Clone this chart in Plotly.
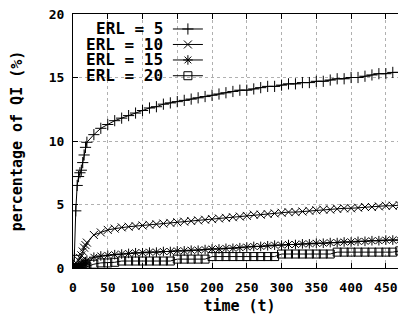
import plotly.graph_objects as go

t = list(range(0, 21, 2)) + list(range(30, 480, 10))

erl5 = [0, 1.0, 4.5, 6.5, 7.2, 7.5, 7.7, 8.3, 8.9, 9.5, 9.9,
        10.5, 11.0, 11.3, 11.6, 11.8, 12.0, 12.2,
        12.4, 12.6, 12.7, 12.9, 13.0, 13.1, 13.2, 13.3, 13.4, 13.5,
        13.6, 13.7, 13.8, 13.9, 14.0, 14.0, 14.1, 14.2, 14.3, 14.3,
        14.4, 14.5, 14.5, 14.6, 14.6, 14.7, 14.7, 14.8, 14.9, 14.9,
        15.0, 15.0, 15.1, 15.2, 15.3, 15.3, 15.4, 15.4]
erl10 = [0, 0, 0.1, 0.3, 0.6, 0.8, 1.0, 1.3, 1.6, 1.8, 2.0,
         2.6, 2.8, 3.0, 3.1, 3.2, 3.25, 3.3,
         3.35, 3.4, 3.45, 3.5, 3.55, 3.6, 3.65, 3.7, 3.75, 3.8,
         3.85, 3.9, 3.95, 4.0, 4.05, 4.1, 4.2, 4.2, 4.25, 4.3,
         4.35, 4.4, 4.4, 4.45, 4.5, 4.55, 4.6, 4.6, 4.65, 4.7,
         4.7, 4.75, 4.8, 4.8, 4.85, 4.9, 4.9, 4.95]
erl15 = [0, 0, 0, 0, 0.05, 0.1, 0.2, 0.3, 0.4, 0.5, 0.6,
         0.85, 0.95, 1.0, 1.05, 1.1, 1.15, 1.2,
         1.2, 1.25, 1.25, 1.3, 1.3, 1.35, 1.35, 1.4, 1.4, 1.45,
         1.5, 1.5, 1.55, 1.55, 1.6, 1.65, 1.7, 1.7, 1.75, 1.8,
         1.8, 1.85, 1.85, 1.9, 1.9, 1.95, 1.95, 2.0, 2.0, 2.05,
         2.05, 2.1, 2.1, 2.15, 2.15, 2.2, 2.2, 2.2]
erl20 = [0, 0, 0, 0, 0, 0, 0, 0, 0, 0.05, 0.1,
         0.3, 0.4, 0.4, 0.45, 0.55, 0.55, 0.55,
         0.55, 0.55, 0.55, 0.55, 0.55, 0.7, 0.7, 0.7, 0.7, 0.7,
         0.9, 0.9, 0.9, 0.9, 0.9, 0.9, 0.9, 0.9, 0.9, 0.9,
         1.1, 1.1, 1.1, 1.1, 1.1, 1.1, 1.1, 1.1, 1.25, 1.25,
         1.25, 1.25, 1.25, 1.25, 1.25, 1.25, 1.25, 1.35]

labels = ["ERL = 5", "ERL = 10", "ERL = 15", "ERL = 20"]
series = [erl5, erl10, erl15, erl20]
symbols = ["cross-thin-open", "x-thin-open", "asterisk-open", "square-open"]

x_ticks = list(range(0, 451, 50))
y_ticks = [0, 5, 10, 15, 20]

FONT = "DejaVu Sans Mono"
key_rows = [0.941, 0.880, 0.819, 0.757]
legend_ids = ["legend", "legend2", "legend3", "legend4"]

fig = go.Figure()
for lab, ys, sym, lid in zip(labels, series, symbols, legend_ids):
    fig.add_trace(go.Scatter(
        x=t, y=ys, mode="lines+markers", name="", legend=lid,
        line=dict(color="black", width=1),
        marker=dict(symbol=sym, size=8, color="black",
                    line=dict(color="black", width=1)),
    ))

# key background
fig.add_shape(type="rect", xref="paper", yref="paper", x0=0, x1=0.41,
              y0=0.72, y1=1.0, fillcolor="white", line=dict(width=0),
              layer="between")

for lab, yy in zip(labels, key_rows):
    fig.add_annotation(text="<b>%s</b>" % lab, xref="paper", yref="paper",
                       x=0.276, y=yy, xanchor="right", yanchor="middle",
                       showarrow=False,
                       font=dict(family=FONT, size=16, color="black"))

axis_common = dict(
    showline=True, linecolor="black", linewidth=1, mirror="ticks",
    ticks="inside", ticklen=5, tickcolor="black",
    showgrid=True, gridcolor="#b0b0b0", griddash="dot", gridwidth=1,
    zeroline=False, automargin=False, ticklabeloverflow="allow",
    tickfont=dict(family=FONT, size=13, color="black", weight="bold"),
)

fig.update_xaxes(range=[0, 479], tickvals=x_ticks, ticklabelstandoff=7,
                 title=dict(text="<b>time (t)</b>", standoff=6,
                            font=dict(family=FONT, size=15, color="black")),
                 **axis_common)
fig.update_yaxes(range=[0, 20], tickvals=y_ticks, ticklabelstandoff=5,
                 title=dict(text="<b>percentage of QI (%)</b>", standoff=22,
                            font=dict(family=FONT, size=15, color="black")),
                 **axis_common)

leg_common = dict(x=0.285, xanchor="left", yanchor="middle",
                  bgcolor="rgba(0,0,0,0)", borderwidth=0,
                  font=dict(family=FONT, size=10), itemwidth=30)

# page body has an 8px margin, so the figure is 398x312 to fill 406x320
fig.update_layout(
    width=398, height=312,
    margin=dict(l=65, r=0, t=6, b=52),
    paper_bgcolor="white", plot_bgcolor="white",
    showlegend=True,
    legend=dict(y=key_rows[0], **leg_common),
    legend2=dict(y=key_rows[1], **leg_common),
    legend3=dict(y=key_rows[2], **leg_common),
    legend4=dict(y=key_rows[3], **leg_common),
)

fig.write_html("out.html")
